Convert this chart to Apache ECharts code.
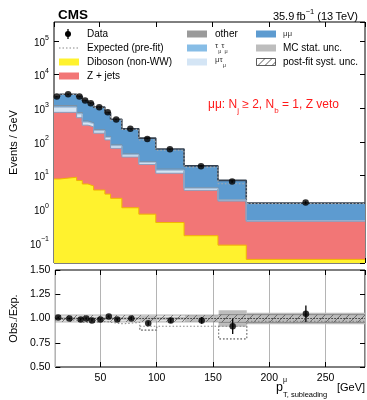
<!DOCTYPE html>
<html>
<head>
<meta charset="utf-8">
<script src="https://cdn.jsdelivr.net/npm/echarts@6/dist/echarts.min.js"></script>
<style>
  html, body { margin: 0; padding: 0; background: #fff; }
  #chart { width: 367px; height: 400px; }
</style>
</head>
<body>
<div id="chart"></div>
<script>
// bins in p_T (GeV)
var binEdges = [10, 15, 30, 35, 40, 45, 55, 60, 70, 85, 100, 125, 155, 180, 285];

// backgrounds, events / GeV
var diboson = [7.9, 8.9, 7.1, 5.6, 4.9, 3.7, 2.8, 2.1, 1.10, 0.71, 0.40, 0.162, 0.085, 0.032];
var zjets   = [751, 750, 518, 310, 277, 178, 112, 62.5, 34.4, 20.7, 11.3, 3.47, 1.65, 0.405];
var mutau   = [311, 311, 152, 70, 63, 33, 21, 11.7, 5.7, 3.0, 2.6, 0.51, 0.12, 0.015];
var tautau  = [89, 89, 43, 20, 18, 9.4, 6, 3.3, 1.6, 0.86, 0.74, 0.15, 0.034, 0.004];
var other   = [44, 44, 22, 10, 9, 4.7, 3, 1.7, 0.8, 0.43, 0.37, 0.07, 0.017, 0.002];
var mumu    = [1014, 1427, 1520, 1281, 1070, 854, 599, 392, 201, 104, 46.1, 15.0, 5.27, 1.05];
var prefit  = [2190, 2580, 2170, 1630, 1385, 1050, 715, 447, 235, 114, 56.6, 17.8, 5.7, 1.47];

// data
var dataVals = [2239, 2630, 2239, 1698, 1413, 1072, 759, 468, 245, 123, 60.3, 19.05, 6.61, 1.585];
var dataErr  = [22, 21, 22, 17, 17, 11, 9, 6, 3.7, 2.6, 1.5, 0.7, 0.55, 0.13];

// ratio panel
var ratioVals   = [1.01, 1.00, 0.99, 1.00, 0.98, 0.99, 1.02, 0.99, 1.00, 0.95, 0.98, 0.98, 0.92, 1.05];
var ratioErr    = [0.01, 0.008, 0.01, 0.01, 0.012, 0.01, 0.012, 0.012, 0.015, 0.02, 0.025, 0.035, 0.08, 0.085];
var mcStatErr   = [0.02, 0.02, 0.02, 0.02, 0.02, 0.02, 0.02, 0.02, 0.02, 0.025, 0.02, 0.03, 0.085, 0.06];
var systErr     = [0.035, 0.035, 0.035, 0.035, 0.035, 0.035, 0.035, 0.035, 0.035, 0.035, 0.035, 0.035, 0.04, 0.04];
var prefitRatio = [0.99, 0.98, 0.96, 0.96, 0.96, 0.97, 0.96, 0.945, 0.96, 0.88, 0.92, 0.92, 0.79, 0.97];
var prefitBoxTop = [null, null, null, null, null, null, null, null, null, 0.92, null, null, 0.92, null];

var xMin = 10, xMax = 285;
var yMin = 0.025, yMax = 3.7e5;

var FONT = '"Liberation Sans", Arial, sans-serif';

function stepPoints(vals) {
  var pts = [];
  for (var i = 0; i < vals.length; i++) pts.push([binEdges[i], vals[i]]);
  pts.push([binEdges[vals.length], vals[vals.length - 1]]);
  return pts;
}
var binCenters = [];
for (var i = 0; i < binEdges.length - 1; i++) binCenters.push((binEdges[i] + binEdges[i + 1]) / 2);

// stack the backgrounds, bottom first; draw the tallest layer first so the lower ones paint over it
var layers = [
  { vals: diboson, fill: '#fff22e', line: '#f2b600' },
  { vals: zjets,   fill: '#f27676', line: '#8a9cbd' },
  { vals: mutau,   fill: '#d4e5f5', line: '#a9bfd8' },
  { vals: tautau,  fill: '#87bde6', line: '#6d9cc6' },
  { vals: other,   fill: '#9a9a9a', line: '#8a8a8a' },
  { vals: mumu,    fill: '#5d9bd0', line: '#34404f', lw: 1.6 }
];
var running = diboson.map(function () { return 0; });
layers.forEach(function (l) {
  running = running.map(function (s, i) { return s + l.vals[i]; });
  l.cum = running.slice();
});

var stackSeries = [];
for (var k = layers.length - 1; k >= 0; k--) {
  stackSeries.push({
    type: 'line', step: 'end', symbol: 'none', xAxisIndex: 0, yAxisIndex: 0,
    data: stepPoints(layers[k].cum),
    lineStyle: { color: layers[k].line, width: layers[k].lw || 1 },
    areaStyle: { color: layers[k].fill, opacity: 1, origin: 'start' },
    z: 2, silent: true
  });
}

function errBars(xs, vals, errs) {
  var out = [];
  for (var i = 0; i < xs.length; i++) out.push([xs[i], vals[i] - errs[i], vals[i] + errs[i]]);
  return out;
}
function bandRects(errs) {
  var out = [];
  for (var i = 0; i < errs.length; i++) out.push([binEdges[i], binEdges[i + 1], 1 - errs[i], 1 + errs[i]]);
  return out;
}

function renderErr(params, api) {
  var a = api.coord([api.value(0), api.value(1)]);
  var b = api.coord([api.value(0), api.value(2)]);
  return { type: 'line', shape: { x1: a[0], y1: a[1], x2: b[0], y2: b[1] }, style: { stroke: '#000', lineWidth: 1.3 } };
}

function renderBand(hatch) {
  return function (params, api) {
    var a = api.coord([api.value(0), api.value(3)]);
    var b = api.coord([api.value(1), api.value(2)]);
    var rect = { x: a[0], y: a[1], width: b[0] - a[0], height: b[1] - a[1] };
    if (!hatch) return { type: 'rect', shape: rect, style: { fill: '#bdbdbd' } };
    var kids = [];
    var s = 8;
    var xL = a[0], xR = b[0], yT = a[1], yB = b[1];
    for (var c = Math.ceil((xL + yT) / s) * s; c <= xR + yB; c += s) {
      var xa = Math.max(xL, c - yB), xb = Math.min(xR, c - yT);
      if (xb > xa) kids.push({ type: 'line', shape: { x1: xa, y1: c - xa, x2: xb, y2: c - xb }, style: { stroke: '#555', lineWidth: 0.8 } });
    }
    kids.push({ type: 'line', shape: { x1: xL, y1: yT, x2: xR, y2: yT }, style: { stroke: '#666', lineWidth: 0.6 } });
    kids.push({ type: 'line', shape: { x1: xL, y1: yB, x2: xR, y2: yB }, style: { stroke: '#666', lineWidth: 0.6 } });
    return { type: 'group', children: kids };
  };
}

function renderBox(params, api) {
  var a = api.coord([api.value(0), api.value(3)]);
  var b = api.coord([api.value(1), api.value(2)]);
  return { type: 'rect', shape: { x: a[0], y: a[1], width: b[0] - a[0], height: b[1] - a[1] },
    style: { fill: 'none', stroke: '#888', lineWidth: 1.1, lineDash: [1.5, 2] } };
}

var boxData = [];
for (var i = 0; i < prefitBoxTop.length; i++) {
  if (prefitBoxTop[i] != null) boxData.push([binEdges[i], binEdges[i + 1], prefitRatio[i], prefitBoxTop[i]]);
}

var tickIn = { show: true, inside: true, length: 5, lineStyle: { color: '#000', width: 1 } };

function logLabel(v) {
  var e = Math.round(Math.log10(v));
  return '{b|10}{s|' + (e < 0 ? '\u2212' + (-e) : e) + '}';
}

var option = {
  animation: false,
  textStyle: { fontFamily: FONT },
  grid: [
    { left: 49, right: 2, top: 22, height: 241, show: true, borderColor: '#000', borderWidth: 1, backgroundColor: 'transparent' },
    { left: 49, right: 2, top: 270, height: 97, show: true, borderColor: '#000', borderWidth: 1, backgroundColor: 'transparent' }
  ],
  xAxis: [
    { type: 'value', gridIndex: 0, min: xMin, max: xMax, axisLine: { show: false }, axisTick: tickIn,
      axisLabel: { show: false }, splitLine: { show: false } },
    { type: 'value', gridIndex: 1, min: xMin, max: xMax, axisLine: { show: false }, axisTick: tickIn,
      axisLabel: { show: true, color: '#000', fontSize: 10.5, margin: 6, showMinLabel: false, showMaxLabel: false },
      splitLine: { show: true, lineStyle: { color: '#b4b4b4', width: 1 } } },
    { type: 'value', gridIndex: 0, position: 'top', min: xMin, max: xMax, axisLine: { show: false }, axisTick: tickIn,
      axisLabel: { show: false }, splitLine: { show: false } },
    { type: 'value', gridIndex: 1, position: 'top', min: xMin, max: xMax, axisLine: { show: false }, axisTick: tickIn,
      axisLabel: { show: false }, splitLine: { show: false } }
  ],
  yAxis: [
    { type: 'log', logBase: 10, gridIndex: 0, min: yMin, max: yMax, axisLine: { show: false }, axisTick: tickIn,
      splitLine: { show: false },
      name: 'Events / GeV', nameLocation: 'middle', nameGap: 33,
      nameTextStyle: { color: '#000', fontSize: 11 },
      axisLabel: { color: '#000', margin: 5, showMinLabel: false, showMaxLabel: false, formatter: logLabel,
        rich: { b: { fontSize: 10, lineHeight: 14, verticalAlign: 'bottom' }, s: { fontSize: 7, lineHeight: 14, verticalAlign: 'top' } } } },
    { type: 'value', gridIndex: 1, min: 0.5, max: 1.5, interval: 0.25, axisLine: { show: false }, axisTick: tickIn,
      splitLine: { show: false },
      name: 'Obs./Exp.', nameLocation: 'middle', nameGap: 31,
      nameTextStyle: { color: '#000', fontSize: 11 },
      axisLabel: { color: '#000', fontSize: 10.5, margin: 5, formatter: function (v) { return v.toFixed(2); } } },
    { type: 'log', logBase: 10, gridIndex: 0, position: 'right', min: yMin, max: yMax, axisLine: { show: false },
      axisTick: tickIn, axisLabel: { show: false }, splitLine: { show: false } },
    { type: 'value', gridIndex: 1, position: 'right', min: 0.5, max: 1.5, interval: 0.25, axisLine: { show: false },
      axisTick: tickIn, axisLabel: { show: false }, splitLine: { show: false } }
  ],
  series: stackSeries.concat([
    { name: 'Expected (pre-fit)', type: 'line', step: 'end', symbol: 'none', xAxisIndex: 0, yAxisIndex: 0,
      data: stepPoints(prefit), lineStyle: { color: '#aaaaaa', width: 1.2, type: [1.5, 2] }, z: 3, silent: true },
    { name: 'Data err', type: 'custom', xAxisIndex: 0, yAxisIndex: 0, renderItem: renderErr,
      data: errBars(binCenters, dataVals, dataErr), z: 4, silent: true },
    { name: 'Data', type: 'scatter', xAxisIndex: 0, yAxisIndex: 0, symbol: 'circle', symbolSize: 6.5,
      itemStyle: { color: '#000' }, data: binCenters.map(function (x, i) { return [x, dataVals[i]]; }), z: 5 },

    { name: 'MC stat. unc.', type: 'custom', xAxisIndex: 1, yAxisIndex: 1, renderItem: renderBand(false),
      data: bandRects(mcStatErr), z: 2, silent: true },
    { name: 'post-fit syst. unc.', type: 'custom', xAxisIndex: 1, yAxisIndex: 1, renderItem: renderBand(true),
      data: bandRects(systErr), z: 3, silent: true, clip: true,
      markLine: { silent: true, symbol: 'none', label: { show: false },
        lineStyle: { color: '#333', width: 1, type: [1.5, 1.5] }, data: [{ yAxis: 1 }] } },
    { name: 'pre-fit ratio', type: 'line', step: 'end', symbol: 'none', xAxisIndex: 1, yAxisIndex: 1,
      data: stepPoints(prefitRatio), lineStyle: { color: '#888', width: 1.1, type: [1.5, 2] }, z: 3, silent: true },
    { name: 'pre-fit box', type: 'custom', xAxisIndex: 1, yAxisIndex: 1, renderItem: renderBox, data: boxData, z: 3, silent: true },
    { name: 'ratio err', type: 'custom', xAxisIndex: 1, yAxisIndex: 1, renderItem: renderErr,
      data: errBars(binCenters, ratioVals, ratioErr), z: 4, silent: true },
    { name: 'ratio', type: 'scatter', xAxisIndex: 1, yAxisIndex: 1, symbol: 'circle', symbolSize: 6.5,
      itemStyle: { color: '#000' }, data: binCenters.map(function (x, i) { return [x, ratioVals[i]]; }), z: 5 }
  ]),
  graphic: [
    // header
    { type: 'text', x: 58, y: 15, style: { text: 'CMS', fontFamily: FONT, fontSize: 13.5, fontWeight: 'bold', fill: '#000', verticalAlign: 'middle' } },
    { type: 'text', x: 358, y: 15, style: { text: '{a|35.9\u2009fb}{s|\u22121}{a| (13\u2009TeV)}', align: 'right', verticalAlign: 'middle', fill: '#000',
      rich: { a: { fontFamily: FONT, fontSize: 11, lineHeight: 14, verticalAlign: 'bottom' }, s: { fontFamily: FONT, fontSize: 7.5, lineHeight: 14, verticalAlign: 'top' } } } },
    // annotation
    { type: 'text', x: 208, y: 107, style: { text: '{t|\u03bc\u03bc: N}{u|j}{t| \u2265 2, N}{u|b}{t| = 1, Z veto}', verticalAlign: 'middle', fill: '#ff1a1a',
      rich: { t: { fontFamily: FONT, fontSize: 12, lineHeight: 16, verticalAlign: 'top', fill: '#ff1a1a' }, u: { fontFamily: FONT, fontSize: 8, lineHeight: 16, verticalAlign: 'bottom', fill: '#ff1a1a' } } } },

    // legend column 1
    { type: 'line', shape: { x1: 68, y1: 29, x2: 68, y2: 39 }, style: { stroke: '#000', lineWidth: 1.3 } },
    { type: 'circle', shape: { cx: 68, cy: 34, r: 3 }, style: { fill: '#000' } },
    { type: 'text', x: 87, y: 34, style: { text: 'Data', fontFamily: FONT, fontSize: 10, fill: '#000', verticalAlign: 'middle' } },
    { type: 'line', shape: { x1: 59, y1: 48, x2: 79, y2: 48 }, style: { stroke: '#888', lineWidth: 1.2, lineDash: [1.5, 2] } },
    { type: 'text', x: 87, y: 48, style: { text: 'Expected (pre-fit)', fontFamily: FONT, fontSize: 10, fill: '#000', verticalAlign: 'middle' } },
    { type: 'rect', shape: { x: 59, y: 58.5, width: 20, height: 7 }, style: { fill: '#fff22e' } },
    { type: 'text', x: 87, y: 62, style: { text: 'Diboson (non-WW)', fontFamily: FONT, fontSize: 10, fill: '#000', verticalAlign: 'middle' } },
    { type: 'rect', shape: { x: 59, y: 72.5, width: 20, height: 7 }, style: { fill: '#f27676' } },
    { type: 'text', x: 87, y: 76, style: { text: 'Z + jets', fontFamily: FONT, fontSize: 10, fill: '#000', verticalAlign: 'middle' } },

    // legend column 2
    { type: 'rect', shape: { x: 187, y: 30.5, width: 20, height: 7 }, style: { fill: '#9a9a9a' } },
    { type: 'text', x: 215, y: 34, style: { text: 'other', fontFamily: FONT, fontSize: 10, fill: '#000', verticalAlign: 'middle' } },
    { type: 'rect', shape: { x: 187, y: 44.5, width: 20, height: 7 }, style: { fill: '#87bde6' } },
    { type: 'text', x: 215, y: 48, style: { text: '{a|\u03c4}{s|\u03bc}{a|\u03c4}{s|\u03bc}', verticalAlign: 'middle',
      rich: { a: { fontFamily: FONT, fontSize: 8, fill: '#333', lineHeight: 12, verticalAlign: 'top' }, s: { fontFamily: FONT, fontSize: 5.5, fill: '#333', lineHeight: 12, verticalAlign: 'bottom' } } } },
    { type: 'rect', shape: { x: 187, y: 58.5, width: 20, height: 7 }, style: { fill: '#d4e5f5' } },
    { type: 'text', x: 215, y: 62, style: { text: '{a|\u03bc\u03c4}{s|\u03bc}', verticalAlign: 'middle',
      rich: { a: { fontFamily: FONT, fontSize: 8, fill: '#333', lineHeight: 12, verticalAlign: 'top' }, s: { fontFamily: FONT, fontSize: 5.5, fill: '#333', lineHeight: 12, verticalAlign: 'bottom' } } } },

    // legend column 3
    { type: 'rect', shape: { x: 256, y: 30.5, width: 20, height: 7 }, style: { fill: '#5d9bd0' } },
    { type: 'text', x: 283, y: 34, style: { text: '\u03bc\u03bc', fontFamily: FONT, fontSize: 8, fill: '#333', verticalAlign: 'middle' } },
    { type: 'rect', shape: { x: 256, y: 44.5, width: 20, height: 7 }, style: { fill: '#bdbdbd' } },
    { type: 'text', x: 283, y: 48, style: { text: 'MC stat. unc.', fontFamily: FONT, fontSize: 10, fill: '#000', verticalAlign: 'middle' } },
    { type: 'rect', shape: { x: 256.5, y: 58.5, width: 19, height: 7 }, style: { fill: '#fff', stroke: '#333', lineWidth: 0.8 } },
    { type: 'line', shape: { x1: 258, y1: 65.5, x2: 265, y2: 58.5 }, style: { stroke: '#333', lineWidth: 0.8 } },
    { type: 'line', shape: { x1: 265, y1: 65.5, x2: 272, y2: 58.5 }, style: { stroke: '#333', lineWidth: 0.8 } },
    { type: 'line', shape: { x1: 272, y1: 65.5, x2: 275.5, y2: 62 }, style: { stroke: '#333', lineWidth: 0.8 } },
    { type: 'text', x: 283, y: 62, style: { text: 'post-fit syst. unc.', fontFamily: FONT, fontSize: 10, fill: '#000', verticalAlign: 'middle' } },

    // x axis title
    { type: 'text', x: 276, y: 388, style: { text: 'p', fontFamily: FONT, fontSize: 12.5, fill: '#000', verticalAlign: 'middle' } },
    { type: 'text', x: 283, y: 380, style: { text: '\u03bc', fontFamily: FONT, fontSize: 7, fill: '#000', verticalAlign: 'middle' } },
    { type: 'text', x: 283, y: 395, style: { text: 'T, subleading', fontFamily: FONT, fontSize: 7.5, fill: '#000', verticalAlign: 'middle' } },
    { type: 'text', x: 337, y: 388, style: { text: '[GeV]', fontFamily: FONT, fontSize: 11, fill: '#000', verticalAlign: 'middle' } }
  ]
};

var myChart = echarts.init(document.getElementById('chart'));
myChart.setOption(option);
</script>
</body>
</html>
